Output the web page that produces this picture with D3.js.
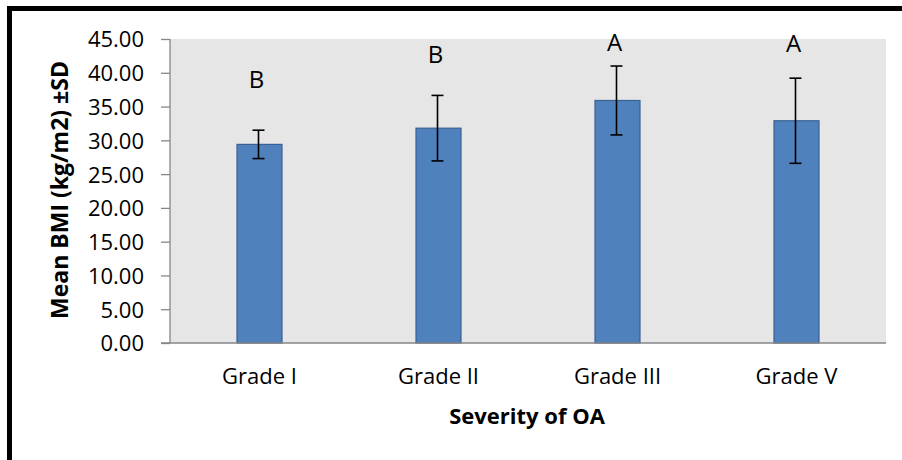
<!DOCTYPE html>
<html lang="en">
    <head>
        <meta charset="utf-8">
        <title>Mean BMI by severity of OA</title>
        <script src="https://d3js.org/d3.v7.min.js"></script>
        <style type="text/css">
            body { margin: 0; background: #fff; }
            text { font-family: "Open Sans", sans-serif; fill: #000; }
            .tick text { font-size: 22px; }
            .axis-title { font-size: 22px; font-weight: bold; }
            .y-title { font-size: 23px; }
            .letter { font-size: 24px; }
        </style>
    </head>
    <body>
        <svg width="902" height="460"></svg>
        <script type="text/javascript">

            // data
            const grades = ["Grade I", "Grade II", "Grade III", "Grade V"];
            const meanBMI = [29.4, 31.8, 35.9, 32.9];
            const sdBMI = [2.1, 4.85, 5.1, 6.3];
            const groupLetters = ["B", "B", "A", "A"];
            const letterLevel = [37.8, 41.5, 43.2, 43.1];   // baseline of each letter, in BMI units
            const yTicks = [0, 5, 10, 15, 20, 25, 30, 35, 40, 45];

            const svg = d3.select("svg");

            // outer frame
            svg.append("path")
               .attr("d", "M9.5,470 L9.5,8.5 L910,8.5")
               .attr("fill", "none")
               .attr("stroke", "#000")
               .attr("stroke-width", 5);

            const plotL = 170, plotR = 886, plotT = 39, plotB = 343;

            const x = d3.scaleBand()
                        .domain(grades)
                        .range([plotL, plotR])
                        .paddingInner(0)
                        .paddingOuter(0);

            const y = d3.scaleLinear()
                        .domain([0, 45])
                        .range([plotB, plotT]);

            // plot background
            svg.append("rect")
               .attr("x", plotL)
               .attr("y", plotT)
               .attr("width", plotR - plotL)
               .attr("height", plotB - plotT)
               .attr("fill", "#e6e6e6");

            const barW = 45;

            // bars
            svg.selectAll("rect.bar")
               .data(meanBMI)
               .enter()
               .append("rect")
               .attr("class", "bar")
               .attr("x", (d, i) => x(grades[i]) + x.bandwidth() / 2 - barW / 2)
               .attr("y", d => y(d))
               .attr("width", barW)
               .attr("height", d => plotB - y(d))
               .attr("fill", "#4f81bd")
               .attr("stroke", "#3a6293")
               .attr("stroke-width", 1.2);

            // error bars
            const err = svg.selectAll("g.err")
                           .data(meanBMI)
                           .enter()
                           .append("g")
                           .attr("class", "err")
                           .attr("transform", (d, i) => "translate(" + (x(grades[i]) + x.bandwidth() / 2 - 1) + ",0)");

            err.append("line")
               .attr("y1", (d, i) => y(d + sdBMI[i]))
               .attr("y2", (d, i) => y(d - sdBMI[i]))
               .attr("stroke", "#000").attr("stroke-width", 1.6);
            err.append("line")
               .attr("x1", -6).attr("x2", 6)
               .attr("y1", (d, i) => y(d + sdBMI[i]))
               .attr("y2", (d, i) => y(d + sdBMI[i]))
               .attr("stroke", "#000").attr("stroke-width", 1.6);
            err.append("line")
               .attr("x1", -6).attr("x2", 6)
               .attr("y1", (d, i) => y(d - sdBMI[i]))
               .attr("y2", (d, i) => y(d - sdBMI[i]))
               .attr("stroke", "#000").attr("stroke-width", 1.6);

            // significance letters
            svg.selectAll("text.letter")
               .data(groupLetters)
               .enter()
               .append("text")
               .attr("class", "letter")
               .attr("x", (d, i) => x(grades[i]) + x.bandwidth() / 2 - 3)
               .attr("y", (d, i) => y(letterLevel[i]))
               .attr("text-anchor", "middle")
               .text(d => d);

            // y axis
            const yAxis = svg.append("g")
                             .attr("transform", "translate(" + plotL + ",0)")
                             .call(d3.axisLeft(y).tickValues(yTicks).tickFormat(d3.format(".2f")).tickSize(9).tickPadding(17));
            yAxis.selectAll("line, path").attr("stroke", "#868686").attr("stroke-width", 1.3);
            yAxis.select("path").attr("d", "M0," + plotB + "V" + plotT);
            yAxis.selectAll(".tick text").attr("dy", "0.36em");

            // x axis
            const xAxis = svg.append("g")
                             .attr("transform", "translate(0," + plotB + ")")
                             .call(d3.axisBottom(x).tickSize(0).tickPadding(25));
            xAxis.select("path").attr("stroke", "#868686").attr("stroke-width", 1.3).attr("d", "M" + (plotL - 9) + ",0H" + plotR);

            // axis titles
            svg.append("text")
               .attr("class", "axis-title y-title")
               .attr("transform", "translate(68," + ((plotT + plotB) / 2 - 1) + ") rotate(-90)")
               .attr("text-anchor", "middle")
               .text("Mean BMI (kg/m2) ±SD");

            svg.append("text")
               .attr("class", "axis-title")
               .attr("x", (plotL + plotR) / 2 - 1)
               .attr("y", 424)
               .attr("text-anchor", "middle")
               .text("Severity of OA");

        </script>
    </body>
</html>
